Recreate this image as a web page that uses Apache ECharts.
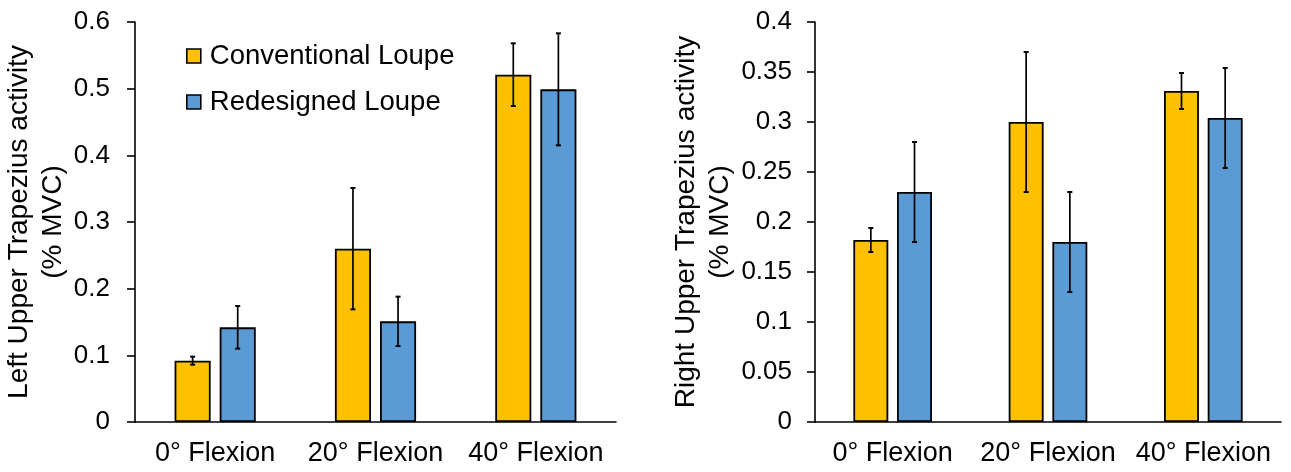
<!DOCTYPE html>
<html>
<head>
<meta charset="utf-8">
<script src="https://cdn.jsdelivr.net/npm/echarts@6/dist/echarts.min.js"></script>
<style>html,body{margin:0;padding:0;background:#fff}#c{width:1291px;height:472px}</style>
</head>
<body>
<div id="c"></div>
<script>
var categories = ['0° Flexion', '20° Flexion', '40° Flexion'];
var seriesNames = ['Conventional Loupe', 'Redesigned Loupe'];
var leftTicks = [0, 0.6, 0.1];   // min, max, interval
var rightTicks = [0, 0.4, 0.05];
var leftConv = [0.092, 0.26, 0.521];
var leftConvErr = [0.006, 0.091, 0.047];
var leftRed = [0.142, 0.151, 0.499];
var leftRedErr = [0.032, 0.037, 0.084];
var rightConv = [0.182, 0.30, 0.331];
var rightConvErr = [0.012, 0.07, 0.018];
var rightRed = [0.23, 0.18, 0.304];
var rightRedErr = [0.05, 0.05, 0.05];
var leftTitle = 'Left Upper Trapezius activity\n(% MVC)';
var rightTitle = 'Right Upper Trapezius activity\n(% MVC)';

var COLORS = ['#FFC000', '#5B9BD5'];
var FONT = '"Liberation Sans", Arial, sans-serif';
var BAR_W = 0.225, BAR_GAP = 0.25;

function errData(vals, errs) {
  return vals.map(function (v, i) { return [i, v - errs[i], v + errs[i]]; });
}
function errSeries(vals, errs, idx, axisIdx) {
  return {
    type: 'custom', xAxisIndex: axisIdx, yAxisIndex: axisIdx, silent: true, z: 10,
    data: errData(vals, errs),
    renderItem: function (params, api) {
      var band = api.size([1, 0])[0];
      var bw = band * BAR_W, gap = bw * BAR_GAP;
      var off = (idx === 0 ? -1 : 1) * (bw + gap) / 2;
      var lo = api.coord([api.value(0), api.value(1)]);
      var hi = api.coord([api.value(0), api.value(2)]);
      var x = lo[0] + off, cap = 2.5;
      var st = { stroke: '#000', lineWidth: 1.7 };
      return { type: 'group', children: [
        { type: 'line', shape: { x1: x, y1: lo[1], x2: x, y2: hi[1] }, style: st },
        { type: 'line', shape: { x1: x - cap, y1: lo[1], x2: x + cap, y2: lo[1] }, style: { stroke: '#000', lineWidth: 2 } },
        { type: 'line', shape: { x1: x - cap, y1: hi[1], x2: x + cap, y2: hi[1] }, style: { stroke: '#000', lineWidth: 2 } }
      ]};
    }
  };
}
function barSeries(name, vals, idx, axisIdx) {
  return {
    name: name, type: 'bar', xAxisIndex: axisIdx, yAxisIndex: axisIdx,
    data: vals, barWidth: (BAR_W * 100) + '%', barGap: (BAR_GAP * 100) + '%',
    itemStyle: { color: COLORS[idx], borderColor: '#000', borderWidth: 1.8 },
    emphasis: { disabled: true }
  };
}
function xAxis(gi) {
  return {
    type: 'category', gridIndex: gi, data: categories,
    axisLine: { lineStyle: { color: '#000', width: 1.6 } },
    axisTick: { show: false },
    axisLabel: { interval: 0, color: '#000', fontFamily: FONT, fontSize: 27, margin: 18 }
  };
}
function yAxis(gi, ticks, title, gap, margin) {
  return {
    type: 'value', gridIndex: gi, min: ticks[0], max: ticks[1], interval: ticks[2],
    name: title, nameLocation: 'middle', nameGap: gap,
    nameTextStyle: { color: '#000', fontFamily: FONT, fontSize: 28, lineHeight: 34 },
    axisLine: { show: true, lineStyle: { color: '#000', width: 1.6 } },
    axisTick: { show: true, length: 8, lineStyle: { color: '#000', width: 1.6 } },
    splitLine: { show: false },
    axisLabel: { color: '#000', fontFamily: FONT, fontSize: 26, margin: margin }
  };
}

var chart = echarts.init(document.getElementById('c'));
chart.setOption({
  animation: false,
  backgroundColor: '#fff',
  grid: [
    { left: 135, right: 675, top: 22, bottom: 50 },
    { left: 815, right: 10, top: 22, bottom: 50 }
  ],
  legend: {
    data: seriesNames, orient: 'vertical', left: 186, top: 42, padding: 0,
    itemWidth: 14, itemHeight: 14, itemGap: 18, icon: 'rect',
    itemStyle: { borderColor: '#000', borderWidth: 1.6 },
    textStyle: { color: '#000', fontFamily: FONT, fontSize: 27.5, lineHeight: 28, padding: [0, 0, 0, 4] },
    selectedMode: false
  },
  xAxis: [xAxis(0), xAxis(1)],
  yAxis: [yAxis(0, leftTicks, leftTitle, 64, 25), yAxis(1, rightTicks, rightTitle, 76, 23)],
  series: [
    barSeries(seriesNames[0], leftConv, 0, 0),
    barSeries(seriesNames[1], leftRed, 1, 0),
    barSeries(seriesNames[0], rightConv, 0, 1),
    barSeries(seriesNames[1], rightRed, 1, 1),
    errSeries(leftConv, leftConvErr, 0, 0),
    errSeries(leftRed, leftRedErr, 1, 0),
    errSeries(rightConv, rightConvErr, 0, 1),
    errSeries(rightRed, rightRedErr, 1, 1)
  ]
});
</script>
</body>
</html>
